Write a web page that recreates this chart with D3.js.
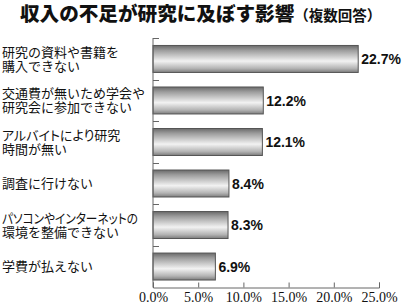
<!DOCTYPE html>
<html><head><meta charset="utf-8">
<script src="https://cdn.jsdelivr.net/npm/d3@7"></script>
<style>
html,body{margin:0;padding:0;background:#fff;}
svg{display:block;}
</style></head>
<body>
<svg id="c" width="402" height="305"></svg>
<script>
const title = "収入の不足が研究に及ぼす影響";
const subtitle = "（複数回答）";
const categories = [
  ["研究の資料や書籍を", "購入できない"],
  ["交通費が無いため学会や", "研究会に参加できない"],
  ["アルバイトにより研究", "時間が無い"],
  ["調査に行けない"],
  ["パソコンやインターネットの", "環境を整備できない"],
  ["学費が払えない"]
];
const values = [22.7, 12.2, 12.1, 8.4, 8.3, 6.9];
const xTicks = [0, 5, 10, 15, 20, 25];

(function(){
const svg = d3.select("#c");
const mLeft = 153, mRight = 379, mTop = 38, mBottom = 287.5;
const ids = categories.map((d, i) => i);
const x = d3.scaleLinear().domain([0, 25]).range([mLeft, mRight]);
const y = d3.scaleBand().domain(ids).range([mTop, mBottom]).paddingInner(0.35).paddingOuter(0.18);
const yb = d3.scaleBand().domain(ids).range([mTop, mBottom]);

const defs = svg.append("defs");
const g = defs.append("linearGradient").attr("id", "bg").attr("x1", 0).attr("y1", 0).attr("x2", 0).attr("y2", 1);
[[0, "#6a6a6a"], [0.18, "#9c9c9c"], [0.58, "#f2f2f2"], [0.85, "#b4b4b4"], [1, "#7c7c7c"]]
  .forEach(([o, c]) => g.append("stop").attr("offset", o).attr("stop-color", c));

// title
const t = svg.append("text").attr("x", 20).attr("y", 21)
  .attr("font-family", "'Noto Sans CJK JP'").attr("fill", "#111");
t.append("tspan").attr("font-size", 19.6).attr("font-weight", 900).text(title);
t.append("tspan").attr("font-size", 14.5).attr("font-weight", 700).text(subtitle);

// bars
svg.append("g").selectAll("rect").data(values).join("rect")
  .attr("x", x(0)).attr("y", (d, i) => y(i))
  .attr("width", d => x(d) - x(0)).attr("height", y.bandwidth())
  .attr("fill", "url(#bg)").attr("stroke", "#555").attr("stroke-width", 1);

// value labels
svg.append("g").selectAll("text").data(values).join("text")
  .attr("x", d => x(d) + 3).attr("y", (d, i) => y(i) + y.bandwidth() / 2)
  .attr("dy", "0.36em")
  .attr("font-family", "'Liberation Sans', Arial, sans-serif").attr("font-weight", "bold")
  .attr("font-size", 14).attr("fill", "#111")
  .text(d => d.toFixed(1) + "%");

// category labels
const kata = /[ァ-ヶー]{2}/;
const maxKata = 136;
const lab = svg.append("g").selectAll("g").data(categories).join("g");
lab.each(function(lines, i) {
  const cy = y(i) + y.bandwidth() / 2;
  const lh = 14;
  const y0 = cy - (lines.length - 1) * lh / 2;
  d3.select(this).selectAll("text").data(lines).join("text")
    .attr("font-family", "'Noto Sans CJK JP'").attr("font-size", 13).attr("fill", "#111")
    .style("font-feature-settings", d => kata.test(d) ? "'palt'" : "normal")
    .attr("x", 2).attr("y", (d, k) => y0 + k * lh).attr("dy", "0.36em").text(d => d)
    .each(function(d) {
      if (kata.test(d)) {
        const w = this.getComputedTextLength();
        if (w > maxKata) d3.select(this).attr("textLength", maxKata).attr("lengthAdjust", "spacingAndGlyphs");
      }
    });
});

// y axis
const ya = svg.append("g");
ya.append("line").attr("x1", mLeft).attr("x2", mLeft).attr("y1", mTop).attr("y2", mBottom)
  .attr("stroke", "#666");
ya.selectAll("line.t").data(ids).join("line").attr("class", "t")
  .attr("x1", mLeft).attr("x2", mLeft + 6)
  .attr("y1", d => Math.round(yb(d)) + 0.5).attr("y2", d => Math.round(yb(d)) + 0.5)
  .attr("stroke", "#666");

// x axis
const xa = svg.append("g").attr("transform", `translate(0,${mBottom})`)
  .call(d3.axisBottom(x).tickValues(xTicks).tickSize(-5).tickPadding(5).tickFormat(d => d.toFixed(1) + "%"));
xa.select(".domain").attr("stroke", "#666");
xa.selectAll(".tick line").attr("stroke", "#666");
xa.selectAll(".tick text").attr("font-family", "'Liberation Serif', 'Times New Roman', serif")
  .attr("font-size", 14).attr("fill", "#111");
})();
</script>
</body></html>
